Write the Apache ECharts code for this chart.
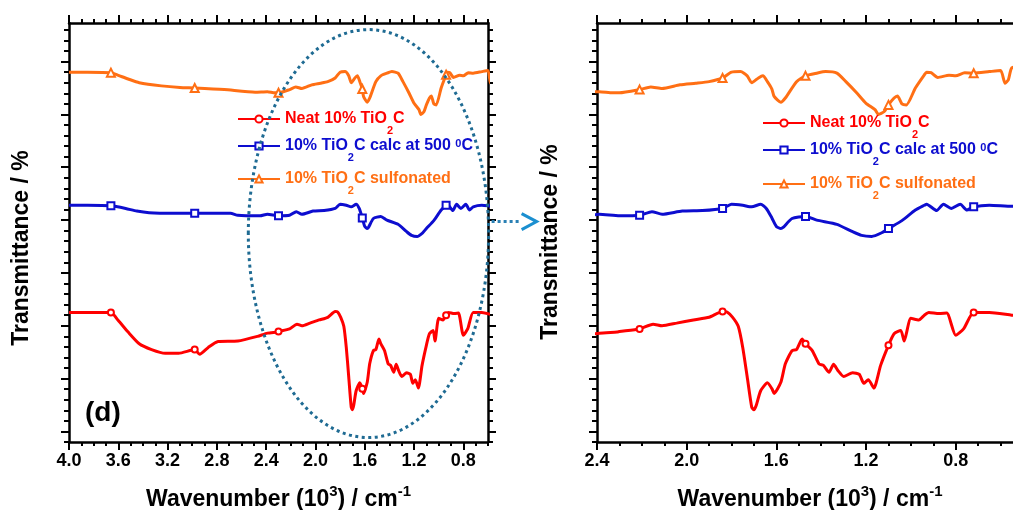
<!DOCTYPE html>
<html lang="en">
<head>
<meta charset="UTF-8">
<title>FTIR TiO2C</title>
<script src="https://cdn.jsdelivr.net/npm/echarts@6/dist/echarts.min.js"></script>
<style>
    html, body { margin: 0; padding: 0; background: #fff; }
    #ec { width: 1013px; height: 510px; }
</style>
</head>
<body>
<div id="ec"></div>
<script>
// wavenumber in 10^3 cm-1, transmittance in offset units (one major y tick = 1)
var neatX = [4.00, 3.85, 3.73, 3.66, 3.60, 3.52, 3.43, 3.33, 3.22, 3.11, 2.98, 2.94, 2.87, 2.79, 2.63, 2.47, 2.39, 2.31, 2.30,
    2.21, 2.15, 2.11, 2.045, 1.97, 1.90, 1.84, 1.82, 1.795, 1.77, 1.75, 1.73, 1.71, 1.70, 1.69, 1.67, 1.64, 1.62, 1.61, 1.58,
    1.56, 1.53, 1.51, 1.485, 1.47, 1.44, 1.41, 1.39, 1.365, 1.345, 1.325, 1.30, 1.26, 1.23, 1.21, 1.19, 1.165, 1.135, 1.10,
    1.075, 1.045, 1.03, 1.00, 0.965, 0.94, 0.92, 0.875, 0.84, 0.80, 0.765, 0.72, 0.65, 0.55, 0.50];
var neatT = [2.25, 2.25, 2.25, 2.25, 2.10, 1.88, 1.66, 1.55, 1.48, 1.48, 1.55, 1.46, 1.59, 1.70, 1.71, 1.80, 1.86, 1.88, 1.89,
    1.94, 2.03, 2.00, 2.05, 2.11, 2.16, 2.27, 2.26, 2.16, 1.99, 1.59, 1.03, 0.46, 0.41, 0.49, 0.77, 0.92, 0.81, 0.72, 0.93,
    1.28, 1.53, 1.55, 1.75, 1.66, 1.53, 1.28, 1.25, 1.12, 1.27, 1.15, 1.04, 1.11, 1.08, 0.91, 0.98, 0.82, 1.25, 1.63,
    1.85, 1.91, 1.71, 2.14, 2.11, 2.20, 2.25, 2.23, 2.24, 1.82, 1.94, 2.25, 2.25, 2.20, 2.18];

var calcX = [4.00, 3.85, 3.66, 3.54, 3.45, 3.35, 3.15, 2.98, 2.69, 2.63, 2.45, 2.39, 2.30, 2.21, 2.155, 2.11, 2.02, 1.93,
    1.84, 1.80, 1.75, 1.71, 1.67, 1.645, 1.62, 1.60, 1.58, 1.57, 1.53, 1.47, 1.42, 1.33, 1.26, 1.22, 1.175, 1.13, 1.10,
    1.04, 0.98, 0.94, 0.93, 0.885, 0.855, 0.82, 0.78, 0.75, 0.72, 0.65, 0.55, 0.50];
var calcT = [4.28, 4.28, 4.27, 4.22, 4.17, 4.14, 4.13, 4.13, 4.13, 4.09, 4.08, 4.11, 4.08, 4.09, 4.16, 4.11, 4.17, 4.18,
    4.22, 4.30, 4.28, 4.25, 4.30, 4.22, 4.04, 3.88, 3.84, 3.86, 4.03, 4.07, 4.00, 3.92, 3.78, 3.71, 3.69, 3.76, 3.84,
    3.99, 4.19, 4.28, 4.30, 4.18, 4.30, 4.22, 4.30, 4.19, 4.25, 4.28, 4.26, 4.26];

var sulfX = [4.00, 3.85, 3.66, 3.60, 3.52, 3.43, 3.25, 3.10, 2.98, 2.74, 2.49, 2.39, 2.33, 2.30, 2.21, 2.16, 2.11, 2.03,
    1.96, 1.90, 1.84, 1.80, 1.76, 1.73, 1.71, 1.68, 1.66, 1.64, 1.62, 1.61, 1.58, 1.56, 1.51, 1.47, 1.42, 1.38, 1.33, 1.29,
    1.24, 1.20, 1.16, 1.145, 1.12, 1.10, 1.075, 1.06, 1.04, 1.02, 0.98, 0.94, 0.93, 0.91, 0.88, 0.83, 0.80, 0.76, 0.72,
    0.65, 0.60, 0.58, 0.565, 0.55, 0.50];
var sulfT = [6.80, 6.80, 6.79, 6.74, 6.67, 6.60, 6.54, 6.51, 6.50, 6.47, 6.42, 6.43, 6.41, 6.41, 6.47, 6.52, 6.49, 6.56,
    6.59, 6.62, 6.69, 6.80, 6.81, 6.73, 6.60, 6.69, 6.73, 6.62, 6.48, 6.34, 6.23, 6.31, 6.62, 6.73, 6.78, 6.81, 6.78, 6.62,
    6.40, 6.21, 6.09, 6.00, 6.05, 6.18, 6.31, 6.35, 6.20, 6.18, 6.50, 6.75, 6.80, 6.79, 6.70, 6.74, 6.73, 6.79, 6.78,
    6.81, 6.83, 6.59, 6.66, 6.88, 6.92];

// where the open symbols sit in each panel
var marksLeft = [3.66, 2.98, 2.30, 1.62, 0.94];
var marksRight = [2.21, 1.84, 1.47, 1.10, 0.72];

// tick labels
var xLabelsLeft = [4.0, 3.6, 3.2, 2.8, 2.4, 2.0, 1.6, 1.2, 0.8];
var xLabelsRight = [2.4, 2.0, 1.6, 1.2, 0.8];
var yMajors = [0, 1, 2, 3, 4, 5, 6, 7];

// zoomed region: centre x, centre y, half width, half height (data units)
var oval = [1.57, 3.745, 0.975, 3.86];

var FONT = '"Liberation Sans", Arial, Helvetica, sans-serif';
var RED = '#ff0000', BLUE = '#0d0dcf', ORANGE = '#ff6f14';

var names = ['Neat 10% TiO2C', '10% TiO2C calc at 500 0C', '10% TiO2C sulfonated'];
var legendRich = {};
legendRich[names[0]] = 'Neat 10% TiO{sub|2}C';
legendRich[names[1]] = '10% TiO{sub|2}C calc at 500 {sup|0}C';
legendRich[names[2]] = '10% TiO{sub|2}C sulfonated';

function near(a, list) {
    return list.some(function (m) { return Math.abs(m - a) < 1e-6; });
}

function minorList(lo, hi, step) {
    var out = [];
    for (var k = Math.round(lo / step); k <= Math.round(hi / step); k++) out.push(+(k * step).toFixed(4));
    return out;
}

var axisBlack = {color: '#000', width: 2.5};

function xAxes(gi, min, max, labels) {
    var minors = minorList(min, max, 0.1);
    var base = {type: 'value', gridIndex: gi, min: min, max: max, inverse: true, splitLine: {show: false}};
    var name = 'Wavenumber (10{sup|3}) / cm{sup|-1}';
    return [
        Object.assign({}, base, {
            position: 'bottom',
            axisLine: {show: true, onZero: false, lineStyle: axisBlack},
            axisTick: {show: true, length: 8, customValues: labels, lineStyle: {color: '#000', width: 2}},
            axisLabel: {customValues: labels, margin: 10, color: '#000', fontSize: 18, fontWeight: 'bold', fontFamily: FONT,
                formatter: function (v) { return v.toFixed(1); }},
            name: name, nameLocation: 'middle', nameGap: 42,
            nameTextStyle: {color: '#000', fontSize: 23, fontWeight: 'bold', fontFamily: FONT,
                rich: {sup: {fontSize: 15, fontWeight: 'bold', fontFamily: FONT, padding: [0, 0, 16, 0]}}}
        }),
        Object.assign({}, base, {
            position: 'bottom',
            axisLine: {show: false, onZero: false},
            axisTick: {show: true, length: 4, customValues: minors, lineStyle: {color: '#000', width: 2}},
            axisLabel: {show: false}
        }),
        Object.assign({}, base, {
            position: 'top',
            axisLine: {show: true, onZero: false, lineStyle: axisBlack},
            axisTick: {show: true, length: 8, customValues: labels, lineStyle: {color: '#000', width: 2}},
            axisLabel: {show: false}
        }),
        Object.assign({}, base, {
            position: 'top',
            axisLine: {show: false, onZero: false},
            axisTick: {show: true, length: 4, customValues: minors, lineStyle: {color: '#000', width: 2}},
            axisLabel: {show: false}
        })
    ];
}

function yAxes(gi) {
    var minors = minorList(-0.2, 7.6, 0.2);
    var base = {type: 'value', gridIndex: gi, min: -0.2, max: 7.73, splitLine: {show: false}, axisLabel: {show: false}};
    var out = [];
    ['left', 'right'].forEach(function (pos) {
        out.push(Object.assign({}, base, {
            position: pos,
            axisLine: {show: true, onZero: false, lineStyle: axisBlack},
            axisTick: {show: true, length: 8, customValues: yMajors, lineStyle: {color: '#000', width: 2}}
        }));
        out.push(Object.assign({}, base, {
            position: pos,
            axisLine: {show: false, onZero: false},
            axisTick: {show: true, length: 5, customValues: minors, lineStyle: {color: '#000', width: 2}}
        }));
    });
    return out;
}

function makeSeries(name, xs, ts, color, symbol, size, marks, gi) {
    var data = xs.map(function (x, i) {
        return {value: [x, ts[i]], symbol: near(x, marks) ? symbol : 'none'};
    });
    return {
        name: name, type: 'line', xAxisIndex: gi * 4, yAxisIndex: gi * 4,
        data: data, symbol: symbol, symbolSize: size, smooth: 0.2,
        lineStyle: {color: color, width: 3},
        itemStyle: {color: color, borderWidth: 1.2},
        emphasis: {disabled: true}
    };
}

function legendRow(name, left, top, color) {
    return {
        data: [name], left: left, top: top, padding: 0, itemWidth: 42, itemHeight: 9, selectedMode: false,
        formatter: function (n) { return legendRich[n]; },
        textStyle: {color: color, fontSize: 16, fontWeight: 'bold', fontFamily: FONT,
            rich: {
                sub: {fontSize: 11, fontWeight: 'bold', fontFamily: FONT, padding: [23, 0, 0, 0]},
                sup: {fontSize: 11, fontWeight: 'bold', fontFamily: FONT, padding: [0, 0, 5, 0]}
            }}
    };
}

var series = [];
[[marksLeft, 0], [marksRight, 1]].forEach(function (p) {
    series.push(makeSeries(names[0], neatX, neatT, RED, 'emptyCircle', 6, p[0], p[1]));
    series.push(makeSeries(names[1], calcX, calcT, BLUE, 'emptyRect', 7, p[0], p[1]));
    series.push(makeSeries(names[2], sulfX, sulfT, ORANGE, 'emptyTriangle', 8, p[0], p[1]));
});

var myChart = echarts.init(document.getElementById('ec'));
myChart.setOption({
    animation: false,
    backgroundColor: '#fff',
    grid: [
        {left: 69, top: 23, width: 419, height: 419, outerBoundsMode: 'none'},
        {left: 597, top: 23, width: 426, height: 419, outerBoundsMode: 'none'}
    ],
    xAxis: xAxes(0, 0.6, 4.0, xLabelsLeft).concat(xAxes(1, 0.5, 2.4, xLabelsRight)),
    yAxis: yAxes(0).concat(yAxes(1)),
    legend: [
        legendRow(names[0], 237, 111, RED),
        legendRow(names[1], 237, 138, BLUE),
        legendRow(names[2], 237, 171, ORANGE),
        legendRow(names[0], 762, 115, RED),
        legendRow(names[1], 762, 142, BLUE),
        legendRow(names[2], 762, 176, ORANGE)
    ],
    series: series
});

// annotations: dotted oval over the zoomed range, arrow to the right panel, titles
var c = myChart.convertToPixel({xAxisIndex: 0, yAxisIndex: 0}, [oval[0], oval[1]]);
var e = myChart.convertToPixel({xAxisIndex: 0, yAxisIndex: 0}, [oval[0] - oval[2], oval[1] + oval[3]]);
var rx = Math.abs(e[0] - c[0]), ry = Math.abs(c[1] - e[1]);
var ay = c[1] - 12;
var titleStyle = {fill: '#000', font: 'bold 23px ' + FONT, textAlign: 'center', textVerticalAlign: 'middle'};

myChart.setOption({
    graphic: [
        {type: 'ellipse', shape: {cx: c[0], cy: c[1], rx: rx, ry: ry}, z: 50,
            style: {fill: 'none', stroke: '#1f6b93', lineWidth: 3, lineDash: [3, 3.5]}},
        {type: 'line', shape: {x1: c[0] + rx + 3, y1: ay, x2: c[0] + rx + 30, y2: ay}, z: 50,
            style: {stroke: '#2a80b4', lineWidth: 3, lineDash: [3, 3]}},
        {type: 'polyline', shape: {points: [[c[0] + rx + 33, ay - 8], [c[0] + rx + 48, ay], [c[0] + rx + 33, ay + 8]]}, z: 50,
            style: {stroke: '#1b8fd0', lineWidth: 3, fill: 'none'}},
        {type: 'text', left: 85, top: 399, z: 50,
            style: {text: '(d)', fill: '#000', font: 'bold 28px ' + FONT}},
        {type: 'text', x: 22, y: 248, rotation: Math.PI / 2, z: 50,
            style: Object.assign({text: 'Transmittance / %'}, titleStyle)},
        {type: 'text', x: 551, y: 242, rotation: Math.PI / 2, z: 50,
            style: Object.assign({text: 'Transmittance / %'}, titleStyle)}
    ]
});
</script>
</body>
</html>
